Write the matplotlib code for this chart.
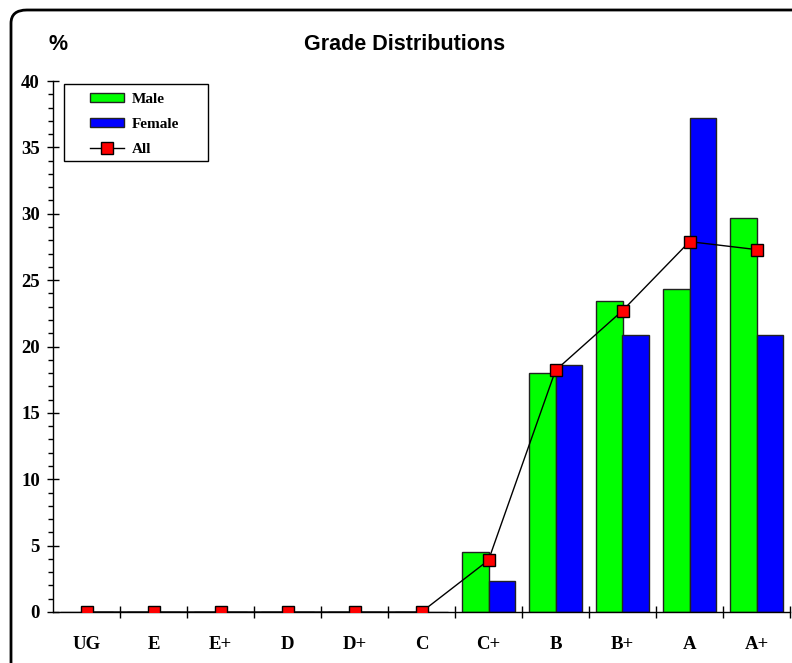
import matplotlib
matplotlib.use("Agg")
import matplotlib.pyplot as plt
from matplotlib.patches import FancyBboxPatch, Rectangle
from matplotlib.ticker import MultipleLocator, FixedLocator
import numpy as np

# grades and percentages
grades = ['UG', 'E', 'E+', 'D', 'D+', 'C', 'C+', 'B', 'B+', 'A', 'A+']
male = [0, 0, 0, 0, 0, 0, 4.5, 18.0, 23.4, 24.3, 29.7]
female = [0, 0, 0, 0, 0, 0, 2.3, 18.6, 20.9, 37.2, 20.9]
all_students = [0, 0, 0, 0, 0, 0, 3.9, 18.2, 22.7, 27.9, 27.3]

fig = plt.figure(figsize=(7.92, 6.63), dpi=100)
W, H = 792, 663

# rounded frame round the whole chart
frame = FancyBboxPatch((11 / W, -20 / H), 800 / W, (H - 10 + 20) / H,
                       boxstyle="round,pad=0,rounding_size=0.02",
                       transform=fig.transFigure, facecolor='none',
                       edgecolor='black', linewidth=2, clip_on=False)
fig.patches.append(frame)

ax = fig.add_axes([53 / W, 1 - 612 / H, (790 - 53) / W, (612 - 81) / H])
AW, AH = 737, 531

x = np.arange(len(grades))
bw = 0.4
b1 = ax.bar(x - bw / 2, male, bw, color='#00ff00', edgecolor='#222222', linewidth=1, label='Male', zorder=2)
b2 = ax.bar(x + bw / 2, female, bw, color='#0000ff', edgecolor='#222222', linewidth=1, label='Female', zorder=2)
ln, = ax.plot(x, all_students, color='black', linewidth=1, marker='s', markersize=8,
              markerfacecolor='#ff0000', markeredgecolor='black', markeredgewidth=1,
              label='All', zorder=4)

ax.set_xlim(-0.5, len(grades) - 0.5)
ax.set_ylim(0, 40)

for s in ['top', 'right']:
    ax.spines[s].set_visible(False)
ax.spines['left'].set_linewidth(1)
ax.spines['bottom'].set_linewidth(1)
ax.spines['bottom'].set_zorder(3)

# y axis
ax.yaxis.set_major_locator(MultipleLocator(5))
ax.yaxis.set_minor_locator(MultipleLocator(1))
ax.tick_params(axis='y', which='major', direction='inout', length=9, width=1, pad=5)
ax.tick_params(axis='y', which='minor', direction='out', length=3.5, width=1)

# x axis: labels at centres, ticks at boundaries
ax.set_xticks(x)
ax.set_xticklabels(grades)
ax.xaxis.set_minor_locator(FixedLocator(np.arange(0.5, len(grades), 1)))
ax.tick_params(axis='x', which='major', length=0, pad=17)
ax.tick_params(axis='x', which='minor', direction='inout', length=9, width=1)

for lab in ax.get_xticklabels() + ax.get_yticklabels():
    lab.set_fontfamily('Liberation Serif')
    lab.set_fontweight('bold')
    lab.set_fontsize(13.5)

fig.text(405 / W, 1 - 44 / H, 'Grade Distributions', ha='center', va='center',
         fontfamily='Liberation Sans', fontweight='bold', fontsize=15.5)
fig.text(58 / W, 1 - 44 / H, '%', ha='center', va='center',
         fontfamily='Liberation Sans', fontweight='bold', fontsize=15.5)

# legend box drawn separately so the handles can sit further in
box = Rectangle(((64 - 53) / AW, (612 - 161) / AH), 144 / AW, 77 / AH,
                transform=ax.transAxes, facecolor='white', edgecolor='black',
                linewidth=1, zorder=5, clip_on=False)
ax.add_patch(box)
leg = ax.legend([b1, b2, ln], ['Male', 'Female', 'All'],
                loc='upper left', bbox_to_anchor=((90 - 53) / AW, 1 - 12 / AH), frameon=False,
                prop={'family': 'Liberation Serif', 'weight': 'bold', 'size': 11},
                handlelength=2.25, handleheight=0.55, labelspacing=0.8,
                borderpad=0, borderaxespad=0, handletextpad=0.5)
leg.set_zorder(6)

fig.savefig('out.png', dpi=100)
